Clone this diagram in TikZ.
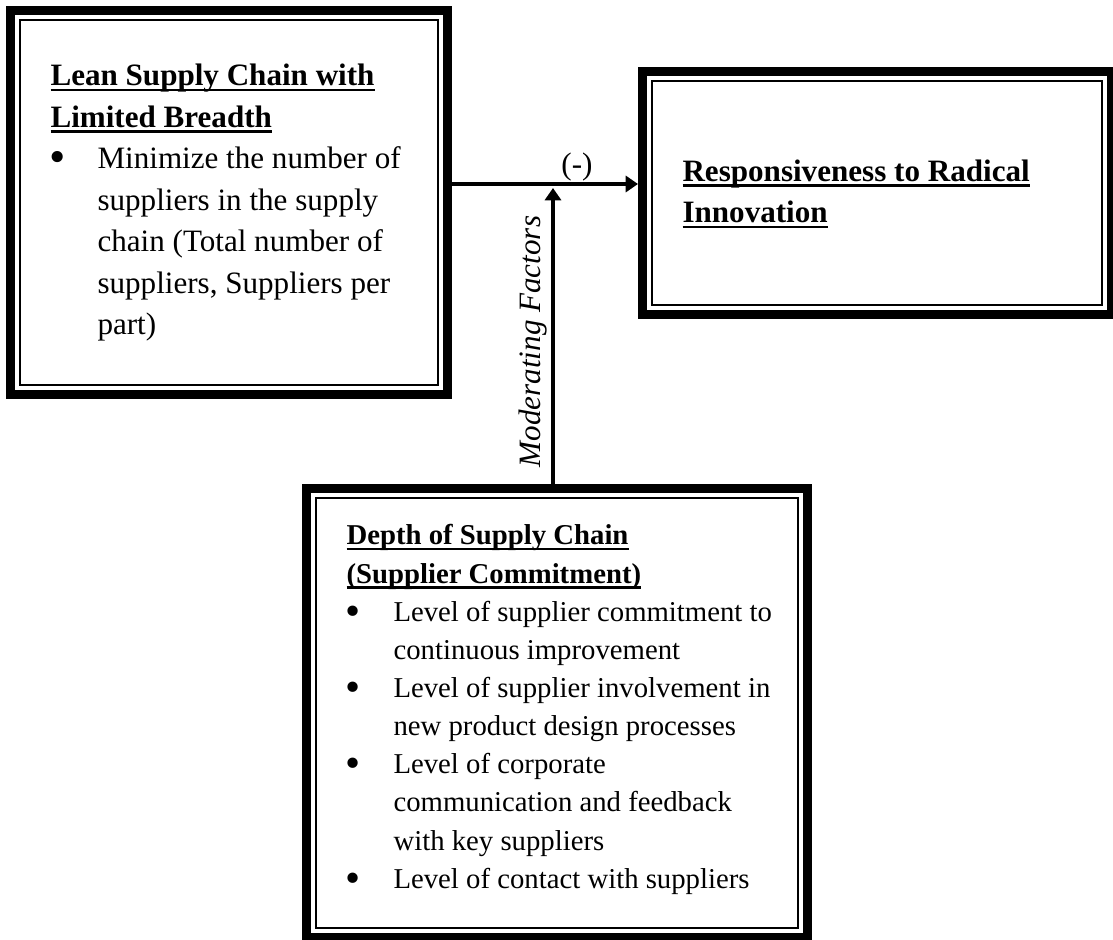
\documentclass[tikz,border=0pt]{standalone}
\usepackage{fontspec}
\usepackage{graphicx}
\setmainfont{Liberation Serif}
\usetikzlibrary{arrows.meta}

% one drawing unit = one pixel of the layout grid
\newdimen\pxunit \pxunit=0.375pt

% bold, underlined heading line
\newcommand\ulbf[1]{\leavevmode\setbox0\hbox{\bfseries #1}\rlap{\rule[-5.5\pxunit]{\wd0}{2.8\pxunit}}\box0}
% list bullet with hanging indent of 47 units
\newcommand\bulletmark{\makebox[47\pxunit][l]{\hspace*{-1\pxunit}\raisebox{-4\pxunit}{\scalebox{1.5}{\textbullet}}}}
\newcommand\hang{\hspace*{47\pxunit}}

\tikzset{
  frame/.style={draw, line width=9\pxunit, inner sep=0pt, fill=white},
  innerframe/.style={draw, line width=2.5\pxunit},
  conn/.style={line width=4.5\pxunit, -{Triangle[length=4.6pt, width=6pt]}},
  bodytext/.style={anchor=base west, inner sep=0pt},
}

\begin{document}
\begin{tikzpicture}[x=0.375pt, y=-0.375pt]
  \useasboundingbox (0,0) rectangle (1113,940);
  \fill[white] (0,0) rectangle (1113,940);

  % the three framed boxes (thick outer line, thin inner line)
  \node[frame, minimum width=437\pxunit, minimum height=384\pxunit] (lean) at (229,202.5) {};
  \node[frame, minimum width=469\pxunit, minimum height=243\pxunit] (resp) at (877,193) {};
  \node[frame, minimum width=501\pxunit, minimum height=449\pxunit] (depth) at (557,713) {};
  \foreach \b in {lean,resp,depth}
    \draw[innerframe] ([shift={(14,14)}]\b.north west) rectangle ([shift={(-14,-14)}]\b.south east);

  % box contents
  \node[bodytext] (leantext) at (50,86) {\parbox[t]{430\pxunit}{\raggedright
    \fontsize{11.66pt}{15.53pt}\selectfont
    \ulbf{Lean Supply Chain with}\\
    \ulbf{Limited Breadth}\\
    \bulletmark Minimize the number of\\
    \hang suppliers in the supply\\
    \hang chain (Total number of\\
    \hang suppliers, Suppliers per\\
    \hang part)}};

  \node[bodytext] (resptext) at (682,181.5) {\parbox[t]{420\pxunit}{\raggedright
    \fontsize{11.66pt}{15.53pt}\selectfont
    \ulbf{Responsiveness to Radical}\\
    \ulbf{Innovation}}};

  \node[bodytext] (depthtext) at (346,545) {\parbox[t]{450\pxunit}{\raggedright
    \fontsize{10.78pt}{14.3pt}\selectfont
    \ulbf{Depth of Supply Chain}\\
    \ulbf{(Supplier Commitment)}\\
    \bulletmark Level of supplier commitment to\\
    \hang continuous improvement\\
    \bulletmark Level of supplier involvement in\\
    \hang new product design processes\\
    \bulletmark Level of corporate\\
    \hang communication and feedback\\
    \hang with key suppliers\\
    \bulletmark Level of contact with suppliers}};

  % connectors
  \coordinate (join) at (553,184);
  \coordinate (jointip) at (553,188);
  \draw[conn] (lean.east |- join) -- (resp.west |- join);
  \draw[conn] (depth.north -| jointip) -- (jointip);

  % connector labels
  \node[inner sep=0pt, font=\fontsize{11.66pt}{14pt}\selectfont] (sign) at (577,167) {(-)};
  \node[inner sep=0pt, anchor=base, rotate=90, font=\itshape\fontsize{11.66pt}{14pt}\selectfont]
    (moderating) at (540,341.5) {Moderating Factors};
\end{tikzpicture}
\end{document}
